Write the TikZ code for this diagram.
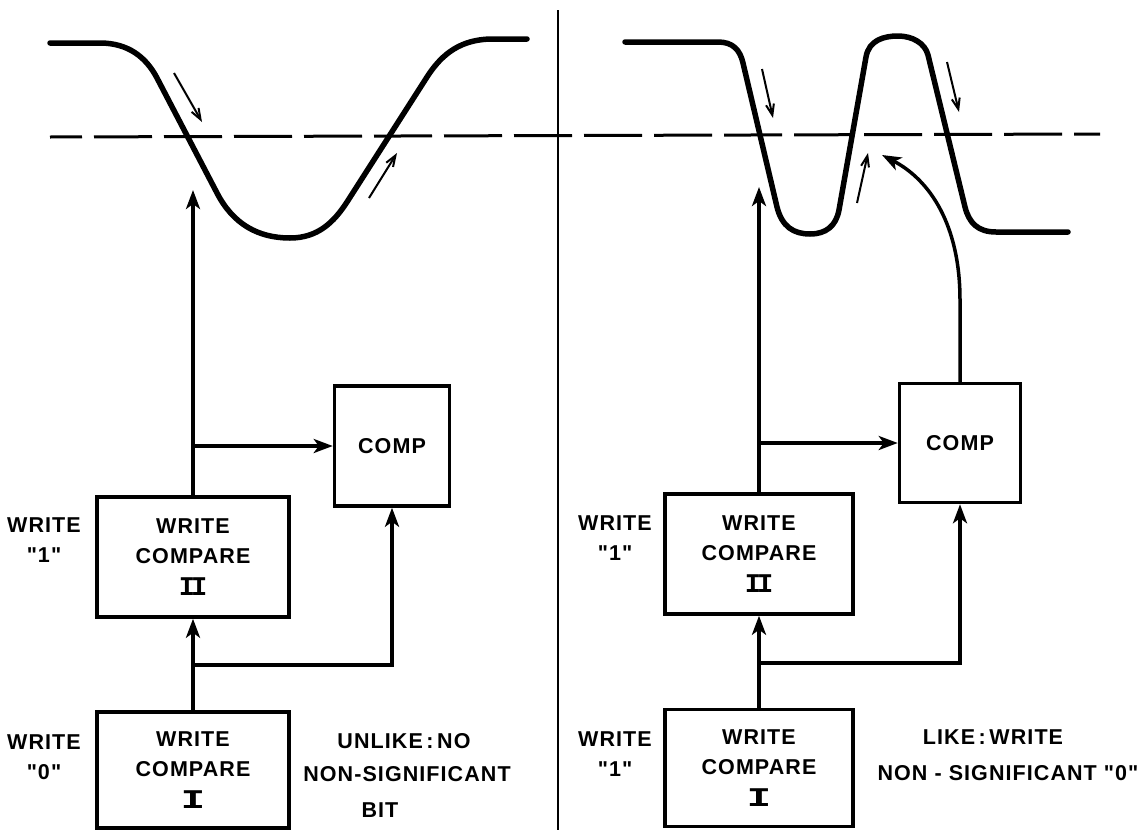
\documentclass[tikz,border=0pt]{standalone}
\usepackage{fontspec}
\setmainfont{Liberation Sans}[LetterSpace=5, Ligatures=TeXOff]
\newfontfamily\numfont{Liberation Mono}
\usetikzlibrary{arrows.meta}
\newcommand{\rnI}{{\numfont\bfseries\fontsize{27}{27}\selectfont\scalebox{1.5}[1]{I}}}
\newcommand{\rnII}{{\numfont\bfseries\fontsize{27}{27}\selectfont I\kern-4pt I}}
\begin{document}
\begin{tikzpicture}[x=1pt,y=-1pt,
  lettering/.style={font=\bfseries\fontsize{21.5}{30}\selectfont, align=center, inner sep=0pt},
  blk/.style={draw, line width=3.5pt, lettering},
  wire/.style={line width=3.5pt},
  arr/.style={wire, -{Stealth[length=19pt,width=14pt,inset=5pt]}},
  wave/.style={line width=5.5pt, line cap=round, line join=round},
  flow/.style={line width=2pt, -{Straight Barb[length=11pt,width=8pt]}},
  level/.style={line width=3pt, dash pattern=on 58pt off 12pt, dash phase=26pt},
  divider/.style={line width=2.2pt}]
\useasboundingbox (0,0) rectangle (1144,830);

% divider and threshold
\coordinate (dTop) at (558,10);
\coordinate (dBot) at (558,830);
\draw[divider] (dTop) -- (dBot);
\coordinate (thL) at (50,137);
\coordinate (thR) at (1100,134);
\draw[level] (thL) -- (thR);

% ---------------- left panel ----------------
\draw[wave] (50,43) -- (100,43) .. controls (128,43) and (146,57) .. (157,78)
  -- (217,193) .. controls (233,224) and (258,238) .. (290,238)
  .. controls (318,238) and (334,222) .. (347,202)
  -- (427,77) .. controls (443,52) and (462,40) .. (490,39) -- (527,39);
\coordinate (fa1) at (174,73);  \coordinate (fb1) at (202,122);
\draw[flow] (fa1) -- (fb1);
\coordinate (fa2) at (369,198); \coordinate (fb2) at (397,153);
\draw[flow] (fa2) -- (fb2);

\node[blk, minimum width=192pt, minimum height=120pt] (wc2L) at (193,557)
  {WRITE\\COMPARE\\[2pt]\rnII};
\node[blk, minimum width=192pt, minimum height=116pt] (wc1L) at (193,770)
  {WRITE\\COMPARE\\[2pt]\rnI};
\node[blk, minimum width=115pt, minimum height=120pt] (compL) at (392,446) {COMP};
\node[lettering] (lab2L) at (44,540) {WRITE\\"1"};
\node[lettering] (lab1L) at (44,757) {WRITE\\"0"};
\node[lettering] (nL1) at (404,741) {UNLIKE\,:\,NO};
\node[lettering] (nL2) at (407,774) {NON-SIGNIFICANT};
\node[lettering] (nL3) at (380,810) {BIT};

\coordinate (tipL) at (193,190);
\coordinate (bL) at (193,446);
\coordinate (jL) at (193,665);
\draw[arr] (wc2L.north) -- (tipL);
\draw[arr] (bL) -- (compL.west);
\draw[arr] (wc1L.north) -- (wc2L.south);
\draw[arr] (jL) -| (compL.south);

% ---------------- right panel ----------------
\draw[wave] (625,42) -- (718,42) .. controls (733,42) and (740,50) .. (743,63)
  -- (777,207) .. controls (782,227) and (794,234) .. (810,234)
  .. controls (826,234) and (836,226) .. (839,210)
  -- (866,57) .. controls (869,40) and (884,36) .. (898,36)
  .. controls (912,36) and (925,43) .. (928,55)
  -- (965,207) .. controls (969,223) and (978,232) .. (996,232) -- (1068,232);
\coordinate (fa3) at (762,69);  \coordinate (fb3) at (773,118);
\draw[flow] (fa3) -- (fb3);
\coordinate (fa4) at (857,203); \coordinate (fb4) at (868,153);
\draw[flow] (fa4) -- (fb4);
\coordinate (fa5) at (947,62);  \coordinate (fb5) at (959,112);
\draw[flow] (fa5) -- (fb5);

\node[blk, minimum width=188pt, minimum height=120pt] (wc2R) at (759,554)
  {WRITE\\COMPARE\\[2pt]\rnII};
\node[blk, minimum width=188pt, minimum height=117pt] (wc1R) at (759,768)
  {WRITE\\COMPARE\\[2pt]\rnI};
\node[blk, minimum width=121pt, minimum height=119pt] (compR) at (960,443) {COMP};
\node[lettering] (lab2R) at (615,538) {WRITE\\"1"};
\node[lettering] (lab1R) at (615,754) {WRITE\\"1"};
\node[lettering] (nR1) at (993,737) {LIKE\,:\,WRITE};
\node[lettering] (nR2) at (1008,773) {NON - SIGNIFICANT "0"};

\coordinate (tipR) at (759,187);
\coordinate (bR) at (759,443);
\coordinate (jR) at (759,663);
\coordinate (tipC) at (882,155);
\draw[arr] (wc2R.north) -- (tipR);
\draw[arr] (bR) -- (compR.west);
\draw[arr] (wc1R.north) -- (wc2R.south);
\draw[arr] (jR) -| (compR.south);
\draw[arr] (compR.north) -- (960,300) .. controls (960,225) and (930,180) .. (tipC);
\end{tikzpicture}
\end{document}
